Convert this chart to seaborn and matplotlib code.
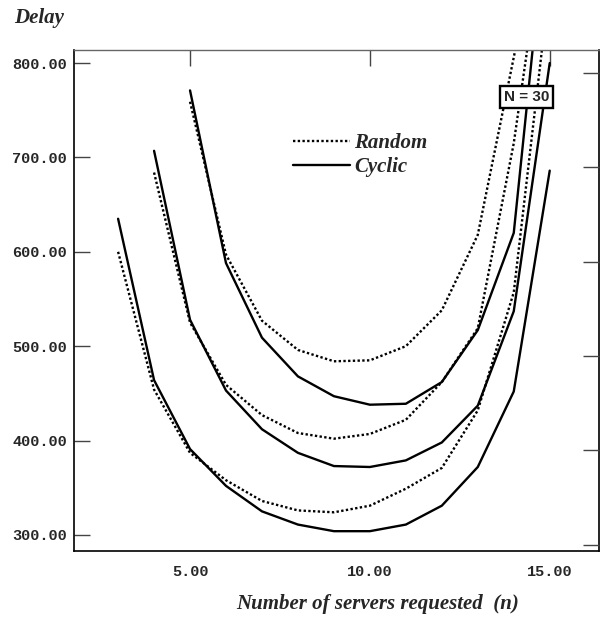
"""
Delay vs number of servers requested, Random vs Cyclic allocation.
"""

import matplotlib
matplotlib.use("Agg")
import matplotlib.pyplot as plt
import pandas as pd
import seaborn as sns
from matplotlib.lines import Line2D
from matplotlib.ticker import FormatStrFormatter

# data (three curve families, lowest to highest)
n_low = [3, 4, 5, 6, 7, 8, 9, 10, 11, 12, 13, 14, 15]
cyclic_low = [635, 464, 391, 352, 325, 311, 304, 304, 311, 331, 372, 452, 686]
random_low = [600, 454, 387, 358, 336, 326, 324, 331, 349, 371, 432, 557, 885]

n_mid = [4, 5, 6, 7, 8, 9, 10, 11, 12, 13, 14, 15]
cyclic_mid = [707, 528, 453, 412, 387, 373, 372, 379, 398, 437, 537, 800]
random_mid = [684, 525, 459, 427, 408, 402, 407, 422, 462, 519, 715, 980]

n_high = [5, 6, 7, 8, 9, 10, 11, 12, 13, 14, 15]
cyclic_high = [771, 588, 509, 468, 447, 438, 439, 462, 517, 620, 990]
random_high = [759, 597, 527, 496, 484, 485, 500, 538, 618, 806, 990]

x_ticks = [5, 10, 15]
y_ticks = [300, 400, 500, 600, 700, 800]

rows = []
for fam, ns, cyc, rnd in [
    ("low", n_low, cyclic_low, random_low),
    ("mid", n_mid, cyclic_mid, random_mid),
    ("high", n_high, cyclic_high, random_high),
]:
    for n, c, r in zip(ns, cyc, rnd):
        rows.append({"family": fam, "n": n, "delay": c, "method": "Cyclic"})
        rows.append({"family": fam, "n": n, "delay": r, "method": "Random"})
df = pd.DataFrame(rows)

sns.set_style("white")
plt.rcParams["font.family"] = ["Liberation Serif", "DejaVu Serif"]

fig = plt.figure(figsize=(6, 6.22), dpi=100)
ax = fig.add_axes([74 / 600, 1 - 551 / 622, 525 / 600, 501 / 622])

sns.lineplot(
    data=df, x="n", y="delay", style="method", units="family",
    estimator=None, sort=False, color="black", linewidth=1.7,
    dashes={"Random": (1, 1), "Cyclic": ""}, legend=False, ax=ax,
)

ax.set_xlim(1.774, 16.37)
ax.set_ylim(283, 813.8)
ax.set_xticks(x_ticks)
ax.set_yticks(y_ticks)
ax.xaxis.set_major_formatter(FormatStrFormatter("%.2f"))
ax.yaxis.set_major_formatter(FormatStrFormatter("%.2f"))
ax.set(xlabel=None, ylabel=None)
ax.tick_params(direction="in", length=11.5, width=1, color="#444444",
               top=True, right=False, labelsize=11)
ax.tick_params(axis="x", pad=10)
ax.tick_params(axis="y", pad=5)
for lab in ax.get_xticklabels() + ax.get_yticklabels():
    lab.set_fontfamily("Liberation Mono")
    lab.set_fontweight("bold")

# right-hand ticks sit a little lower than the left ones in the original
ax2 = ax.twinx()
ax2.set_ylim(ax.get_ylim())
ax2.set_yticks([t - 10.5 for t in y_ticks])
ax2.set_yticklabels([])
ax2.tick_params(direction="in", length=11.5, width=1, color="#444444")
for s in ax2.spines.values():
    s.set_visible(False)

for side in ["left", "bottom", "right"]:
    ax.spines[side].set_color("black")
    ax.spines[side].set_linewidth(1.2)
ax.spines["top"].set_color("#666666")
ax.spines["top"].set_linewidth(1.0)

handles = [
    Line2D([], [], color="black", lw=1.7, linestyle=(0, (1, 1))),
    Line2D([], [], color="black", lw=1.7),
]
ax.legend(
    handles, ["Random", "Cyclic"], loc="upper left",
    bbox_to_anchor=(293 / 600, 1 - 133 / 622), bbox_transform=fig.transFigure,
    frameon=False, borderpad=0, borderaxespad=0, handlelength=2.75,
    handletextpad=0.2, labelspacing=0.2,
    prop=dict(family="Liberation Serif", weight="bold", style="italic", size=15),
)

ax.text(526.5 / 600, 1 - 97 / 622, "N = 30", transform=fig.transFigure,
        ha="center", va="center", fontsize=11, fontweight="bold",
        family="Liberation Sans", zorder=5,
        bbox=dict(boxstyle="square,pad=0.25", fc="white", ec="black", lw=1.7))

fig.text(14 / 600, 1 - 18 / 622, "Delay", ha="left", va="center",
         fontsize=15, fontweight="bold", fontstyle="italic")
fig.text(378 / 600, 1 - 604 / 622, "Number of servers requested  (n)",
         ha="center", va="center", fontsize=15, fontweight="bold",
         fontstyle="italic")

fig.savefig("out.png", dpi=100)
